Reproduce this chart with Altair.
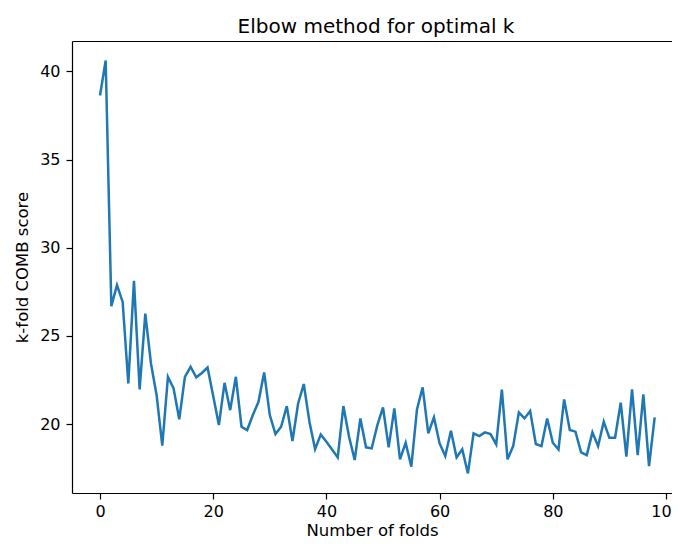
import altair as alt
import pandas as pd

folds = list(range(99))
scores = [
    38.64, 40.62, 26.69, 27.88, 26.93, 22.30, 28.12, 21.97, 26.27, 23.44,
    21.64, 18.78, 22.68, 22.02, 20.27, 22.68, 23.25, 22.65, 22.90, 23.21,
    21.59, 19.94, 22.34, 20.79, 22.68, 19.85, 19.66, 20.51, 21.26, 22.93,
    20.51, 19.43, 19.85, 21.02, 19.04, 21.17, 22.27, 20.13, 18.58, 19.41,
    19.00, 18.56, 18.11, 21.02, 19.28, 17.96, 20.32, 18.68, 18.62, 19.94,
    20.94, 18.68, 20.89, 18.00, 18.94, 17.58, 20.83, 22.08, 19.47, 20.38,
    18.90, 18.19, 19.62, 18.11, 18.57, 17.20, 19.47, 19.32, 19.53, 19.43,
    18.85, 21.95, 18.00, 18.75, 20.66, 20.32, 20.74, 18.87, 18.75, 20.32,
    18.94, 18.56, 21.40, 19.66, 19.57, 18.40, 18.24, 19.53, 18.75, 20.13,
    19.22, 19.22, 21.21, 18.15, 21.97, 18.24, 21.68, 17.62, 20.38,
]
x_ticks = [0, 20, 40, 60, 80, 100]
y_ticks = [20, 25, 30, 35, 40]

df = pd.DataFrame({"folds": folds, "score": scores})

font = "DejaVu Sans"
x_scale = alt.Scale(domain=[-4.95, 101.06], nice=False, zero=False)
y_scale = alt.Scale(domain=[16.09, 41.73], nice=False, zero=False)

base = alt.Chart(df)

line = base.mark_line(color="#1f77b4", strokeWidth=2.5, clip=True).encode(
    x=alt.X(
        "folds:Q",
        title="Number of folds",
        scale=x_scale,
        axis=alt.Axis(values=x_ticks, grid=False, titlePadding=3,
                      labelPadding=4),
    ),
    y=alt.Y(
        "score:Q",
        title="k-fold COMB score",
        scale=y_scale,
        axis=alt.Axis(values=y_ticks, grid=False, titlePadding=9,
                      labelPadding=6),
    ),
)

top_spine = base.mark_line(strokeOpacity=0).encode(
    x=alt.X(
        "folds:Q",
        scale=x_scale,
        axis=alt.Axis(orient="top", labels=False, ticks=False, grid=False,
                      title=None, domain=True),
    ),
    y=alt.Y("score:Q", scale=y_scale, axis=None),
)

chart = (
    alt.layer(line, top_spine)
    .resolve_axis(x="independent", y="independent")
    .properties(
        width=600,
        height=452,
        autosize=alt.AutoSizeParams(type="none"),
        padding={"left": 64, "top": 33, "right": 0, "bottom": 45},
        title=alt.TitleParams("Elbow method for optimal k", fontSize=20,
                              font=font, fontWeight="normal", color="black",
                              offset=4, anchor="middle", dx=4),
    )
    .configure_view(stroke=None)
    .configure_axis(
        labelFont=font, titleFont=font, labelFontSize=16, titleFontSize=16.5,
        labelColor="black", titleColor="black", titleFontWeight="normal",
        domain=True, domainColor="black", domainWidth=1.2,
        tickColor="black", tickSize=6, tickWidth=1.2,
    )
)

chart.save("out.html", embed_options={"renderer": "svg", "actions": False})
